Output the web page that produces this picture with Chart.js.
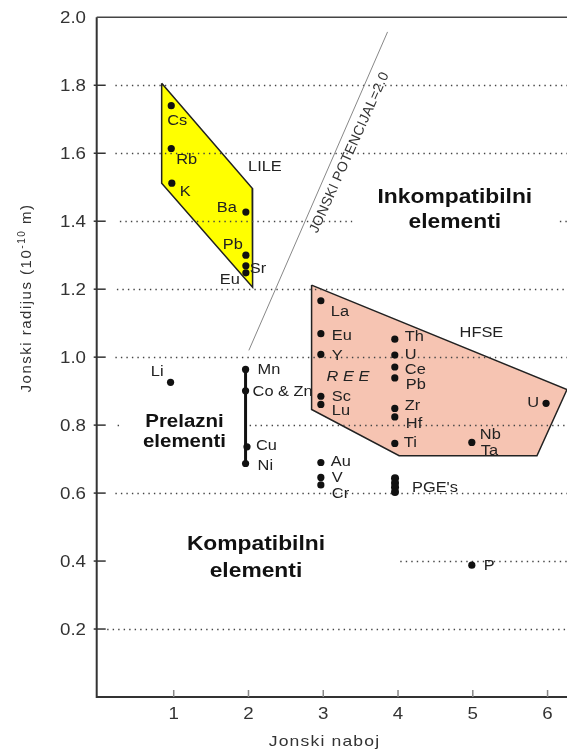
<!DOCTYPE html>
<html>
<head>
<meta charset="utf-8">
<script src="https://cdn.jsdelivr.net/npm/chart.js@4.4.1/dist/chart.umd.min.js"></script>
<style>
  html, body { margin: 0; padding: 0; background: #fff; }
  canvas { display: block; }
</style>
</head>
<body>
<canvas id="chart" width="571" height="752"></canvas>
<script>
/* PODACI */
const xTicks = [1, 2, 3, 4, 5, 6];
const yTicks = [0.2, 0.4, 0.6, 0.8, 1.0, 1.2, 1.4, 1.6, 1.8, 2.0];
const yTickLabels = ["0.2", "0.4", "0.6", "0.8", "1.0", "1.2", "1.4", "1.6", "1.8", "2.0"];
const gridValues = [0.2, 0.4, 0.6, 0.8, 1.0, 1.2, 1.4, 1.6, 1.8];

const elementNames = ["Cs", "Rb", "K", "Ba", "Pb", "Sr", "Eu",
  "La", "Eu", "Y", "Sc", "Lu", "Au", "V", "Cr",
  "Th", "U", "Ce", "Pb", "Zr", "Hf", "Ti", "Nb", "U",
  "Li", "Mn", "Co & Zn", "Cu", "Ni", "P"];
const charge = [0.967, 0.967, 0.975, 1.965, 1.965, 1.965, 1.965,
  2.968, 2.968, 2.968, 2.968, 2.968, 2.968, 2.968, 2.968,
  3.957, 3.957, 3.957, 3.957, 3.957, 3.957, 3.957, 4.987, 5.98,
  0.958, 1.961, 1.961, 1.98, 1.961, 4.987];
const radius = [1.740, 1.614, 1.512, 1.427, 1.300, 1.269, 1.248,
  1.166, 1.069, 1.008, 0.885, 0.861, 0.690, 0.646, 0.624,
  1.053, 1.006, 0.971, 0.939, 0.849, 0.824, 0.746, 0.749, 0.864,
  0.926, 0.964, 0.901, 0.736, 0.687, 0.388];

const pgeCharge = [3.96, 3.96, 3.96, 3.96];
const pgeRadius = [0.644, 0.630, 0.617, 0.603];

// prelazni elementi (Mn - Ni)
const barCharge = [1.961, 1.961];
const barRadius = [0.964, 0.687];

// jonski potencijal = 2.0
const ionicCharge = [2.005, 3.86];
const ionicRadius = [1.02, 1.957];

const lileCharge = [0.839, 2.05, 2.055, 0.839, 0.839];
const lileRadius = [1.806, 1.497, 1.206, 1.512, 1.806];

const hfseCharge = [2.844, 6.26, 5.858, 4.015, 2.844, 2.844];
const hfseRadius = [1.212, 0.905, 0.710, 0.710, 0.846, 1.212];

const regionNames = ["LILE", "HFSE", "R E E"];
const regionCharge = [2.22, 5.115, 3.33];
const regionRadius = [1.56, 1.07, 0.942];

const bigTexts = [["Inkompatibilni", "elementi"], ["Kompatibilni", "elementi"], ["Prelazni", "elementi"]];
const bigCharge = [4.76, 2.10, 1.144];
const bigRadius = [1.47, 0.447, 0.81];

/* STIL */
// pomak natpisa od tocke u px: [dx, dy, poravnanje]
const labelStyle = [[-4, 15, "left"], [5, 12, "left"], [8, 9, "left"], [-9, -4, "right"], [-3, -10, "right"], [4, 3, "left"], [-6, 7, "right"],
  [10, 11, "left"], [11, 2, "left"], [11, 2, "left"], [11, 1, "left"], [11, 7, "left"], [10, 0, "left"], [11, 1, "left"], [11, 9, "left"],
  [10, -2, "left"], [10, 0, "left"], [10, 3, "left"], [11, 7, "left"], [10, -2, "left"], [11, 7, "left"], [9, 0, "left"], [8, -7, "left"], [-7, 0, "right"],
  [-7, -10, "right"], [12, 1, "left"], [7, 1, "left"], [9, -1, "left"], [12, 3, "left"], [12, 1, "left"]];
const gridStart = [0.11, 4.03, 0.22, 0.25, 0.22, 0.24, 0.28, 0.22, 0.22];
const bigSize = [19.5, 19.5, 17.5];
const bigLineGap = [25, 27, 20];
const bigPad = [25, 0, 22];
const SX = 1.17;

function drawText(ctx, str, x, y, font, align, color, sx, spacing) {
  ctx.save();
  ctx.translate(x, y);
  ctx.scale(sx, 1);
  ctx.font = font;
  ctx.letterSpacing = (spacing || 0) + "px";
  ctx.textAlign = align;
  ctx.textBaseline = "middle";
  ctx.fillStyle = color;
  ctx.fillText(str, 0, 0);
  ctx.restore();
}

const figurePlugin = {
  id: "figure",
  beforeDraw(chart) {
    const ctx = chart.ctx;
    ctx.save();
    ctx.fillStyle = "#fff";
    ctx.fillRect(0, 0, chart.width, chart.height);
    ctx.restore();
  },
  afterDatasetDraw(chart, args) {
    if (args.index !== 4) return; // poslije HFSE poligona
    const ctx = chart.ctx, xs = chart.scales.x, ys = chart.scales.y, area = chart.chartArea;
    ctx.save();
    ctx.strokeStyle = "#444";
    ctx.lineWidth = 1.4;
    ctx.setLineDash([1.4, 4.1]);
    gridValues.forEach((v, i) => {
      const py = Math.round(ys.getPixelForValue(v)) + 0.5;
      ctx.beginPath();
      ctx.moveTo(xs.getPixelForValue(gridStart[i]), py);
      ctx.lineTo(area.right, py);
      ctx.stroke();
    });
    ctx.restore();
    // bijela pozadina velikih natpisa
    ctx.save();
    ctx.fillStyle = "#fff";
    bigTexts.forEach((lines, i) => {
      if (!bigPad[i]) return;
      ctx.font = "bold " + bigSize[i] + "px 'Liberation Sans', Arial";
      const w = Math.max(...lines.map(l => ctx.measureText(l).width)) * SX;
      const cx = xs.getPixelForValue(bigCharge[i]);
      const cy = ys.getPixelForValue(bigRadius[i]);
      ctx.fillRect(cx - w / 2 - bigPad[i], cy - 12, w + 2 * bigPad[i], bigLineGap[i] + 24);
    });
    ctx.restore();
  },
  afterDraw(chart) {
    const ctx = chart.ctx, xs = chart.scales.x, ys = chart.scales.y, area = chart.chartArea;
    ctx.save();
    // osi
    ctx.strokeStyle = "#333";
    ctx.lineWidth = 2;
    ctx.beginPath();
    ctx.moveTo(area.left, area.top);
    ctx.lineTo(area.left, area.bottom);
    ctx.lineTo(area.right, area.bottom);
    ctx.stroke();
    ctx.lineWidth = 1.5;
    ctx.strokeStyle = "#444";
    ctx.beginPath();
    ctx.moveTo(area.left, area.top);
    ctx.lineTo(area.right, area.top);
    ctx.stroke();
    // crtice
    ctx.lineWidth = 1.5;
    ctx.strokeStyle = "#333";
    yTicks.forEach(v => {
      if (v >= 2) return;
      const py = ys.getPixelForValue(v);
      ctx.beginPath();
      ctx.moveTo(area.left - 3, py);
      ctx.lineTo(area.left + 9, py);
      ctx.stroke();
    });
    ctx.strokeStyle = "#888";
    xTicks.forEach(v => {
      const px = xs.getPixelForValue(v);
      ctx.beginPath();
      ctx.moveTo(px, area.bottom);
      ctx.lineTo(px, area.bottom - 7);
      ctx.stroke();
    });
    ctx.restore();

    const tickFont = "16px 'Liberation Sans', Arial";
    yTicks.forEach((v, i) => {
      drawText(ctx, yTickLabels[i], 86, ys.getPixelForValue(v) + 1.5, tickFont, "right", "#333", SX);
    });
    xTicks.forEach(v => {
      drawText(ctx, String(v), xs.getPixelForValue(v), 715, tickFont, "center", "#333", SX);
    });
    drawText(ctx, "Jonski naboj", 324.5, 742, "15px 'Liberation Sans', Arial", "center", "#333", SX, 1);

    // naslov osi y
    ctx.save();
    ctx.translate(27, 298);
    ctx.rotate(-Math.PI / 2);
    ctx.fillStyle = "#333";
    ctx.textBaseline = "middle";
    ctx.letterSpacing = "1.5px";
    const mainFont = "15px 'Liberation Sans', Arial";
    const supFont = "10px 'Liberation Sans', Arial";
    const parts = [["Jonski radijus (10", mainFont, 0], ["-10", supFont, -5], [" m)", mainFont, 0]];
    let total = 0;
    parts.forEach(p => { ctx.font = p[1]; total += ctx.measureText(p[0]).width; });
    let cx = -total / 2;
    ctx.textAlign = "left";
    parts.forEach(p => {
      ctx.font = p[1];
      ctx.fillText(p[0], cx, p[2]);
      cx += ctx.measureText(p[0]).width;
    });
    ctx.restore();

    // natpisi elemenata
    const lblFont = "14px 'Liberation Sans', Arial";
    elementNames.forEach((name, i) => {
      const st = labelStyle[i];
      drawText(ctx, name, xs.getPixelForValue(charge[i]) + st[0], ys.getPixelForValue(radius[i]) + st[1], lblFont, st[2], "#222", SX);
    });
    drawText(ctx, "Ta", xs.getPixelForValue(charge[22]) + 9, ys.getPixelForValue(radius[22]) + 9, lblFont, "left", "#222", SX);
    drawText(ctx, "PGE's", xs.getPixelForValue(pgeCharge[0]) + 17, ys.getPixelForValue(pgeRadius[0]) + 10, lblFont, "left", "#222", SX);

    regionNames.forEach((name, i) => {
      const font = (name === "R E E" ? "italic " : "") + lblFont;
      drawText(ctx, name, xs.getPixelForValue(regionCharge[i]), ys.getPixelForValue(regionRadius[i]), font, "center", "#222", SX);
    });

    bigTexts.forEach((lines, i) => {
      const cx = xs.getPixelForValue(bigCharge[i]);
      const cy = ys.getPixelForValue(bigRadius[i]);
      lines.forEach((l, j) => {
        drawText(ctx, l, cx, cy + j * bigLineGap[i], "bold " + bigSize[i] + "px 'Liberation Sans', Arial", "center", "#111", SX);
      });
    });

    // jonski potencijal natpis
    ctx.save();
    ctx.translate(xs.getPixelForValue(3.353), ys.getPixelForValue(1.602));
    ctx.rotate(-65.8 * Math.PI / 180);
    ctx.font = "14px 'Liberation Sans', Arial";
    ctx.letterSpacing = "0.3px";
    ctx.fillStyle = "#333";
    ctx.textAlign = "center";
    ctx.textBaseline = "middle";
    ctx.fillText("JONSKI POTENCIJAL=2.0", 0, 0);
    ctx.restore();
  }
};

const toPoints = (xs, ys) => xs.map((x, i) => ({ x: x, y: ys[i] }));

new Chart(document.getElementById("chart"), {
  type: "scatter",
  data: {
    datasets: [
      { label: "elementi", data: toPoints(charge, radius), pointRadius: 3.6, pointBackgroundColor: "#111", pointBorderWidth: 0 },
      { label: "PGE's", data: toPoints(pgeCharge, pgeRadius), pointRadius: 4, pointBackgroundColor: "#111", pointBorderWidth: 0 },
      { label: "prelazni", data: toPoints(barCharge, barRadius), showLine: true, borderColor: "#111", borderWidth: 3, pointRadius: 0 },
      { label: "potencijal", data: toPoints(ionicCharge, ionicRadius), showLine: true, borderColor: "#888", borderWidth: 1, pointRadius: 0 },
      { label: "HFSE", data: toPoints(hfseCharge, hfseRadius), showLine: true, fill: "shape", backgroundColor: "#f6c4b2", borderColor: "#222", borderWidth: 1.5, pointRadius: 0 },
      { label: "LILE", data: toPoints(lileCharge, lileRadius), showLine: true, fill: "shape", backgroundColor: "#ffff00", borderColor: "#222", borderWidth: 1.5, pointRadius: 0 }
    ]
  },
  options: {
    responsive: false,
    animation: false,
    devicePixelRatio: 1,
    events: [],
    layout: { padding: { top: 17.3, right: 0, bottom: 0, left: 0 } },
    plugins: { legend: { display: false }, tooltip: { enabled: false } },
    scales: {
      x: {
        type: "linear", min: -0.03, max: 6.26,
        ticks: { display: false }, grid: { display: false }, border: { display: false },
        afterFit: s => { s.height = 55; }
      },
      y: {
        type: "linear", min: 0, max: 2,
        ticks: { display: false, stepSize: 0.2 }, grid: { display: false }, border: { display: false },
        afterFit: s => { s.width = 96.7; }
      }
    }
  },
  plugins: [figurePlugin]
});
</script>
</body>
</html>
